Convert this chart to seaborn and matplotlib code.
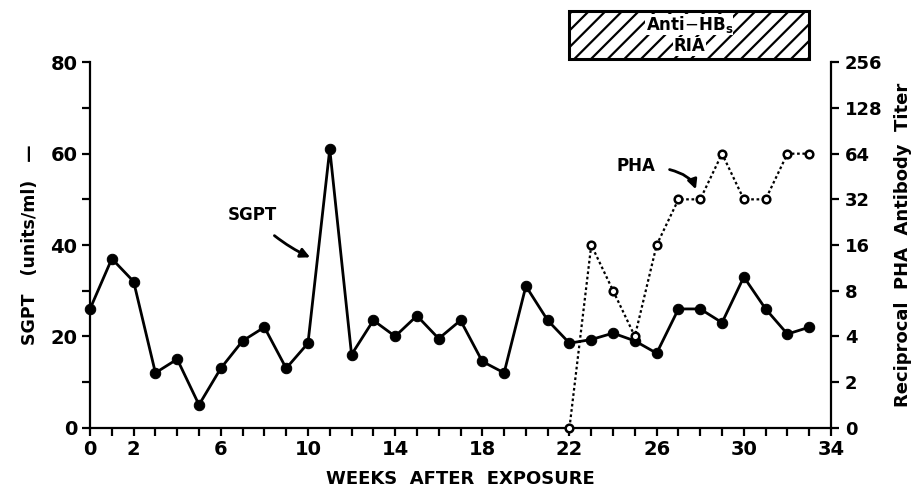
import numpy as np
import pandas as pd
import matplotlib
matplotlib.use("Agg")
import matplotlib.pyplot as plt
import seaborn as sns
from matplotlib.patches import Rectangle

# ---- data ----
weeks = list(range(34))
sgpt = [26, 37, 32, 12, 15, 5, 13, 19, 22, 13, 18.5, 61, 16, 23.5, 20, 24.5, 19.5,
        23.5, 14.5, 12, 31, 23.5, 18.5, 19.3, 20.7, 19, 16.3, 26, 26, 23, 33, 26, 20.5, 22]
pha_weeks = [22, 23, 24, 25, 26, 27, 28, 29, 30, 31, 32, 33]
pha_titer = [0, 16, 8, 4, 16, 32, 32, 64, 32, 32, 64, 64]
titer_ticks = [0, 2, 4, 8, 16, 32, 64, 128, 256]
x_tick_labels = [0, 2, 6, 10, 14, 18, 22, 26, 30, 34]
y_tick_labels = [0, 20, 40, 60, 80]
ria_span = (22, 33)

sns.set_theme(style="white")
plt.rcParams['font.family'] = ['DejaVu Sans']
plt.rcParams['text.color'] = 'black'
plt.rcParams['axes.labelcolor'] = 'black'
plt.rcParams['xtick.color'] = 'black'
plt.rcParams['ytick.color'] = 'black'
plt.rcParams['hatch.linewidth'] = 1.6

fig = plt.figure(figsize=(9.15, 4.91), dpi=100)
ax = fig.add_axes([0.0984, 0.129, 0.8098, 0.744])
ax2 = ax.twinx()

df_s = pd.DataFrame({"week": weeks, "sgpt": sgpt})
sns.lineplot(data=df_s, x="week", y="sgpt", ax=ax, color="black", lw=2.0,
             marker="o", markersize=7.5, markerfacecolor="black",
             markeredgecolor="black", clip_on=False, zorder=3)

def level(t):
    return 0 if t == 0 else np.log2(t)

df_p = pd.DataFrame({"week": pha_weeks, "lvl": [level(t) for t in pha_titer]})
sns.lineplot(data=df_p, x="week", y="lvl", ax=ax2, color="black", lw=1.6,
             linestyle=(0, (1.2, 1.2)), marker="o", markersize=5.5,
             markerfacecolor="white", markeredgecolor="black", markeredgewidth=1.8,
             clip_on=False, zorder=4)

ax.set_xlim(0, 34)
ax.set_ylim(0, 80)
ax2.set_ylim(0, 8)

ax.set_xticks(x_tick_labels)
ax.set_xticklabels([str(v) for v in x_tick_labels])
ax.set_xticks(weeks + [34], minor=True)
ax.set_yticks(y_tick_labels)
ax.set_yticklabels([str(v) for v in y_tick_labels])
ax.set_yticks([10, 30, 50, 70], minor=True)
ax2.set_yticks([level(t) for t in titer_ticks])
ax2.set_yticklabels([str(t) for t in titer_ticks])

for a in (ax, ax2):
    for s in a.spines.values():
        s.set_linewidth(1.6)
        s.set_color("black")
    a.spines["top"].set_visible(False)
    a.grid(False)
ax.spines["right"].set_visible(False)
ax2.spines["left"].set_visible(False)
ax2.spines["bottom"].set_visible(False)

ax.tick_params(axis="both", which="both", direction="out", color="black", width=1.6,
               labelsize=14, pad=3, labelcolor="black")
ax.tick_params(axis="both", which="major", length=6)
ax.tick_params(axis="both", which="minor", length=6)
ax.tick_params(axis="x", which="both", bottom=True)
ax.tick_params(axis="y", which="both", left=True)
ax2.tick_params(axis="y", which="both", direction="out", right=True, length=6,
                width=1.6, color="black", labelsize=13, pad=4, labelcolor="black")
for lab in ax.get_xticklabels() + ax.get_yticklabels() + ax2.get_yticklabels():
    lab.set_fontweight("bold")

ax.set_xlabel("WEEKS  AFTER  EXPOSURE", fontsize=13, fontweight="bold", labelpad=8,
              color="black")
ax.set_ylabel("SGPT   (units/ml)   —", fontsize=12.5, fontweight="bold", labelpad=8,
              color="black")
ax2.set_ylabel("Reciprocal  PHA  Antibody  Titer", fontsize=13, fontweight="bold",
               labelpad=8, color="black")

# annotations
ax.annotate("SGPT", xy=(10.1, 37.3), xytext=(7.45, 46.5), fontsize=12,
            fontweight="bold", ha="center", va="center", color="black",
            arrowprops=dict(arrowstyle="-|>", color="black", lw=2.0,
                            shrinkA=9, shrinkB=0, mutation_scale=14,
                            connectionstyle="arc3,rad=0.1"))
ax.annotate("PHA", xy=(27.8, 52.2), xytext=(25.05, 57.3), fontsize=12,
            fontweight="bold", ha="center", va="center", color="black",
            arrowprops=dict(arrowstyle="-|>", color="black", lw=2.0,
                            shrinkA=8, shrinkB=0, mutation_scale=14,
                            connectionstyle="angle3,angleA=0,angleB=-70"))

# Anti-HBs RIA hatched box above the axes
rect = Rectangle((ria_span[0], 80.8), ria_span[1] - ria_span[0], 10.4,
                 facecolor="white", edgecolor="black", hatch="//", lw=2.2,
                 clip_on=False, zorder=5)
ax.add_patch(rect)
mid = (ria_span[0] + ria_span[1]) / 2
ax.text(mid, 88.3, r"Anti$-$HB$_\mathregular{s}$", ha="center", va="center",
        fontsize=12, fontweight="bold", zorder=6, clip_on=False, color="black",
        bbox=dict(facecolor="white", edgecolor="none", pad=0.3))
ax.text(mid, 83.5, "RIA", ha="center", va="center", fontsize=12,
        fontweight="bold", zorder=6, clip_on=False, color="black",
        bbox=dict(facecolor="white", edgecolor="none", pad=0.3))

fig.savefig("out.png", dpi=100)
